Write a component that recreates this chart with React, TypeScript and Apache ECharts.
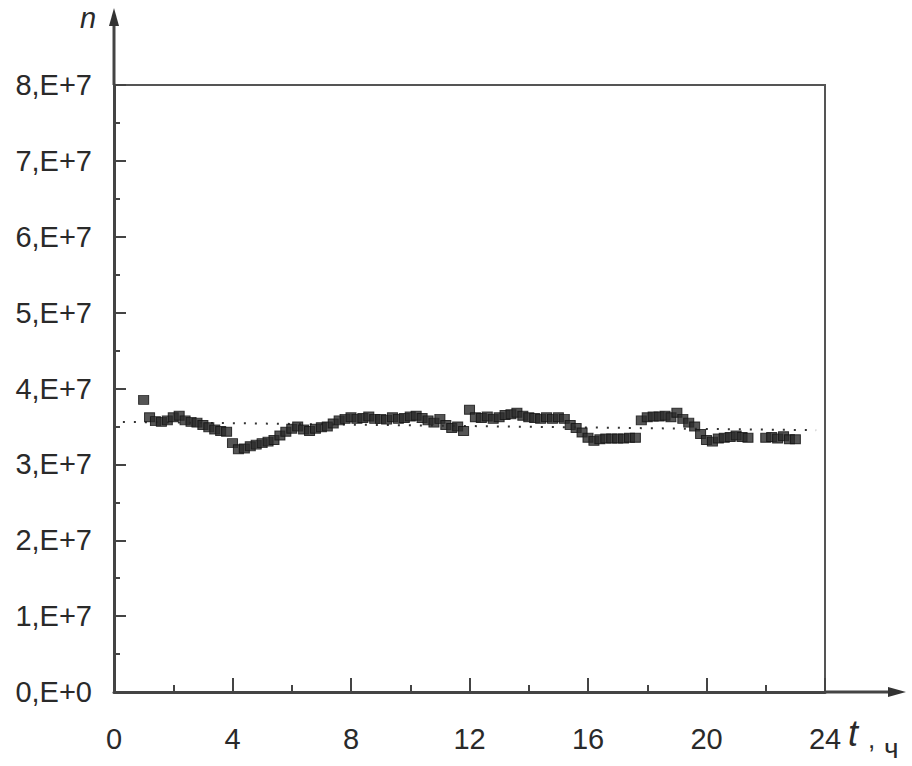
import React, { useEffect, useRef } from "react";
import * as echarts from "echarts";

const times: number[] = [
  1.0, 1.2, 1.4, 1.6, 1.8, 2.0, 2.2, 2.4, 2.6, 2.8, 3.0, 3.2, 3.4, 3.6, 3.8,
  4.0, 4.2, 4.4, 4.6, 4.8, 5.0, 5.2, 5.4, 5.6, 5.8, 6.0, 6.2, 6.4, 6.6, 6.8,
  7.0, 7.2, 7.4, 7.6, 7.8, 8.0, 8.2, 8.4, 8.6, 8.8, 9.0, 9.2, 9.4, 9.6, 9.8,
  10.0, 10.2, 10.4, 10.6, 10.8, 11.0, 11.2, 11.4, 11.6, 11.8, 12.0, 12.2, 12.4, 12.6, 12.8,
  13.0, 13.2, 13.4, 13.6, 13.8, 14.0, 14.2, 14.4, 14.6, 14.8, 15.0, 15.2, 15.4, 15.6, 15.8,
  16.0, 16.2, 16.4, 16.6, 16.8, 17.0, 17.2, 17.4, 17.6, 17.8, 18.0, 18.2, 18.4, 18.6, 18.8,
  19.0, 19.2, 19.4, 19.6, 19.8, 20.0, 20.2, 20.4, 20.6, 20.8, 21.0, 21.2, 21.4,
  22.0, 22.2, 22.4, 22.6, 22.8, 23.0,
];

// n values in units of 1E+7
const nValues: number[] = [
  3.85, 3.62, 3.57, 3.56, 3.58, 3.62, 3.64, 3.58, 3.56, 3.55, 3.52, 3.49, 3.46, 3.44, 3.43,
  3.28, 3.20, 3.21, 3.24, 3.26, 3.28, 3.30, 3.32, 3.38, 3.43, 3.47, 3.50, 3.46, 3.44, 3.47,
  3.49, 3.50, 3.54, 3.58, 3.60, 3.62, 3.60, 3.61, 3.63, 3.60, 3.60, 3.59, 3.62, 3.60, 3.61,
  3.63, 3.64, 3.61, 3.58, 3.55, 3.60, 3.52, 3.48, 3.50, 3.44, 3.72, 3.62, 3.61, 3.63, 3.60,
  3.62, 3.65, 3.66, 3.68, 3.64, 3.62, 3.61, 3.60, 3.62, 3.60, 3.62, 3.60, 3.52, 3.48, 3.42,
  3.35, 3.31, 3.33, 3.34, 3.34, 3.34, 3.34, 3.35, 3.35, 3.58, 3.62, 3.63, 3.63, 3.64, 3.62,
  3.68, 3.60, 3.55, 3.50, 3.40, 3.32, 3.30, 3.34, 3.35, 3.36, 3.38, 3.36, 3.35,
  3.35, 3.36, 3.34, 3.37, 3.33, 3.33,
];

const trendTimes: number[] = [0.3, 23.7];
const trendValues: number[] = [3.56, 3.45];

const yTicks: number[] = [0, 1, 2, 3, 4, 5, 6, 7, 8];
const xTicks: number[] = [0, 4, 8, 12, 16, 20, 24];

const SCALE = 1e7;
const FONT = "Liberation Sans, Arial, sans-serif";

export default function App() {
  const ref = useRef<HTMLDivElement>(null);

  useEffect(() => {
    document.body.style.margin = "0";
    const chart = echarts.init(ref.current!, null, { renderer: "svg" });
    const axisColor = "#444";
    const option: any = {
      animation: false,
      backgroundColor: "#ffffff",
      grid: {
        left: 114,
        right: 87,
        top: 85,
        bottom: 74,
        show: true,
        borderColor: "#555",
        borderWidth: 2,
      },
      xAxis: {
        type: "value",
        min: xTicks[0],
        max: xTicks[xTicks.length - 1],
        interval: 4,
        axisLine: { show: true, lineStyle: { color: axisColor, width: 3 } },
        axisTick: { show: true, inside: true, length: 14, lineStyle: { color: axisColor, width: 2 } },
        minorTick: { show: true, splitNumber: 2, length: 7, lineStyle: { color: axisColor, width: 2 } },
        splitLine: { show: false },
        axisLabel: {
          margin: 32,
          fontFamily: FONT,
          fontSize: 29,
          color: "#2a2a2a",
        },
      },
      yAxis: {
        type: "value",
        min: yTicks[0] * SCALE,
        max: yTicks[yTicks.length - 1] * SCALE,
        interval: SCALE,
        axisLine: { show: true, lineStyle: { color: axisColor, width: 3 } },
        axisTick: { show: true, inside: true, length: 12, lineStyle: { color: axisColor, width: 2 } },
        minorTick: { show: true, splitNumber: 2, length: 6, lineStyle: { color: axisColor, width: 2 } },
        splitLine: { show: false },
        axisLabel: {
          margin: 22,
          fontFamily: FONT,
          fontSize: 29,
          color: "#2a2a2a",
          formatter: (v: number) => {
            const m = Math.round(v / SCALE);
            return m === 0 ? "0,E+0" : `${m},E+7`;
          },
        },
      },
      series: [
        {
          type: "line",
          data: trendTimes.map((t, i) => [t, trendValues[i] * SCALE]),
          showSymbol: false,
          symbol: "none",
          lineStyle: { color: "#333", width: 2, type: [2, 9] },
          z: 1,
        },
        {
          type: "scatter",
          data: times.map((t, i) => [t, nValues[i] * SCALE]),
          symbol: "rect",
          symbolSize: [10, 9],
          itemStyle: { color: "#2a2a2a", borderColor: "#111", borderWidth: 1 },
          z: 2,
        },
      ],
      graphic: [
        { type: "line", shape: { x1: 114, y1: 85, x2: 114, y2: 22 }, style: { stroke: axisColor, lineWidth: 3 } },
        { type: "polygon", shape: { points: [[114, 8], [109, 26], [119, 26]] }, style: { fill: "#333" } },
        { type: "line", shape: { x1: 825, y1: 692, x2: 892, y2: 692 }, style: { stroke: axisColor, lineWidth: 3 } },
        { type: "polygon", shape: { points: [[906, 692], [888, 687], [888, 697]] }, style: { fill: "#333" } },
        {
          type: "text",
          left: 80,
          top: 3,
          style: { text: "n", font: `italic 29px ${FONT}`, fill: "#2a2a2a" },
        },
        {
          type: "text",
          left: 848,
          top: 715,
          style: { text: "t", font: `italic 36px ${FONT}`, fill: "#2a2a2a" },
        },
        {
          type: "text",
          left: 868,
          top: 726,
          style: { text: ",", font: `26px ${FONT}`, fill: "#2a2a2a" },
        },
        {
          type: "text",
          left: 884,
          top: 734,
          style: { text: "ч", font: `28px ${FONT}`, fill: "#2a2a2a" },
        },
      ],
    };
    chart.setOption(option);
    return () => chart.dispose();
  }, []);

  return <div ref={ref} style={{ width: 912, height: 766 }} />;
}
